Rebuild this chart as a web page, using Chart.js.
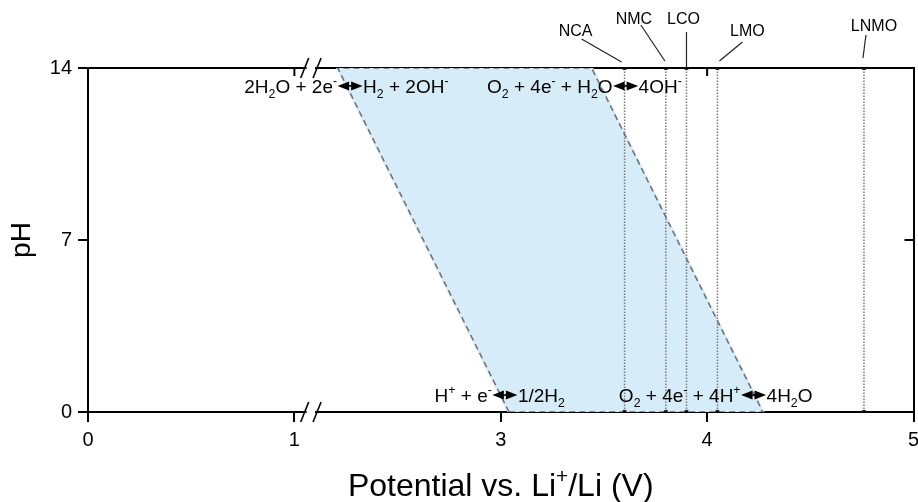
<!DOCTYPE html>
<html><head><meta charset="utf-8">
<script src="https://cdn.jsdelivr.net/npm/chart.js@4.4.1/dist/chart.umd.min.js"></script>
<style>html,body{margin:0;padding:0;background:#fff}canvas{display:block}</style>
</head><body>
<canvas id="c" width="918" height="502"></canvas>
<script>
// ---------- data ----------
const xTickValues = [0, 1, 3, 4, 5];          // V vs Li+/Li (axis broken between 1 and 2)
const yTickValues = [0, 7, 14];               // pH
const electrodeNames = ['NCA', 'NMC', 'LCO', 'LMO', 'LNMO'];
const electrodePotentials = [3.60, 3.80, 3.90, 4.05, 4.76];
const windowPotential = [3.04, 2.21, 3.44, 4.27, 3.04];  // water stability window corners
const windowPH = [0, 14, 14, 0, 0];
const reactionPotential = [2.27, 3.605, 3.02, 4.225];    // arrow centres
const reactionPH = [13.27, 13.27, 0.69, 0.69];
const reactionLeft = [
  [['2H'], ['2', 'sub'], ['O + 2e'], ['-', 'sup']],
  [['O'], ['2', 'sub'], [' + 4e'], ['-', 'sup'], [' + H'], ['2', 'sub'], ['O']],
  [['H'], ['+', 'sup'], [' + e'], ['-', 'sup']],
  [['O'], ['2', 'sub'], [' + 4e'], ['-', 'sup'], [' + 4H'], ['+', 'sup']]
];
const reactionRight = [
  [['H'], ['2', 'sub'], [' + 2OH'], ['-', 'sup']],
  [['4OH'], ['-', 'sup']],
  [['1/2H'], ['2', 'sub']],
  [['4H'], ['2', 'sub'], ['O']]
];
const xTitle = [['Potential vs. Li'], ['+', 'sup'], ['/Li (V)']];
const yTitle = 'pH';

// ---------- layout / style (not data) ----------
const FONT = '"Liberation Sans", Arial, sans-serif';
const labelOffsets = { // text centre, leader start, leader end (px relative to top of line)
  NCA:  { t: [-49, -36], a: [-43, -29], b: [-3, -6] },
  NMC:  { t: [-32, -48], a: [-25, -43], b: [-1, -7] },
  LCO:  { t: [-3, -48],  a: [0, -36],   b: [0, -1] },
  LMO:  { t: [30, -36],  a: [25, -26],  b: [2, -7] },
  LNMO: { t: [10, -41],  a: [2, -33],   b: [-1, -10] }
};
const toAxis = v => (v <= 1.5 ? v : v - 1);   // broken axis: 1 → 2 gap removed

// ---------- datasets ----------
const windowPts = windowPotential.map((e, i) => ({ x: toAxis(e), y: windowPH[i] }));
const datasets = [
  { data: windowPts, showLine: true, fill: 'shape', backgroundColor: '#d6ecf8',
    borderColor: '#d6ecf8', borderWidth: 3, pointRadius: 0, order: 10, tension: 0 },
  { data: windowPts, showLine: true, fill: false, borderColor: '#6e6e6e',
    borderDash: [6, 4], borderWidth: 1.5, pointRadius: 0, order: 9, tension: 0 }
];
electrodePotentials.forEach((e, i) => {
  datasets.push({
    label: electrodeNames[i],
    data: [{ x: toAxis(e), y: yTickValues[0] }, { x: toAxis(e), y: yTickValues[2] }],
    showLine: true, borderColor: '#7a7a7a', borderWidth: 1.5, borderDash: [1.5, 1.5],
    pointStyle: 'rect', pointRadius: 2.3, pointBackgroundColor: '#111', pointBorderColor: '#111',
    pointBorderWidth: 0.5, order: 5
  });
});

function richWidth(ctx, segs, size) {
  let w = 0;
  segs.forEach(([t, m]) => {
    ctx.font = (m ? size * 0.65 : size) + 'px ' + FONT;
    w += ctx.measureText(t).width;
  });
  return w;
}
function drawRich(ctx, segs, x, y, size, align) {
  const w = richWidth(ctx, segs, size);
  let cx = align === 'right' ? x - w : align === 'center' ? x - w / 2 : x;
  ctx.textAlign = 'left';
  ctx.textBaseline = 'alphabetic';
  segs.forEach(([t, m]) => {
    ctx.font = (m ? size * 0.65 : size) + 'px ' + FONT;
    const dy = m === 'sub' ? size * 0.28 : m === 'sup' ? -size * 0.42 : 0;
    ctx.fillText(t, cx, y + dy);
    cx += ctx.measureText(t).width;
  });
}
function drawArrow(ctx, cx, cy) {
  ctx.save();
  ctx.strokeStyle = '#000'; ctx.fillStyle = '#000'; ctx.lineWidth = 1.6;
  ctx.beginPath(); ctx.moveTo(cx - 10, cy); ctx.lineTo(cx + 10, cy); ctx.stroke();
  ctx.beginPath(); ctx.moveTo(cx - 12.5, cy); ctx.lineTo(cx - 1, cy - 4.5); ctx.lineTo(cx - 1, cy + 4.5); ctx.closePath(); ctx.fill();
  ctx.beginPath(); ctx.moveTo(cx + 12.5, cy); ctx.lineTo(cx + 1, cy - 4.5); ctx.lineTo(cx + 1, cy + 4.5); ctx.closePath(); ctx.fill();
  ctx.restore();
}

const decor = {
  id: 'decor',
  beforeDatasetsDraw(chart) {
    const { ctx, chartArea: a, scales: { x, y } } = chart;
    ctx.save();
    ctx.strokeStyle = '#000'; ctx.lineWidth = 2;
    xTickValues.slice(1, -1).forEach(v => {
      const px = x.getPixelForValue(toAxis(v));
      ctx.beginPath(); ctx.moveTo(px, a.top); ctx.lineTo(px, a.top + 8); ctx.stroke();
    });
    yTickValues.slice(1, -1).forEach(v => {
      const py = y.getPixelForValue(v);
      ctx.beginPath(); ctx.moveTo(a.right, py); ctx.lineTo(a.right - 9, py); ctx.stroke();
    });
    ctx.restore();
  },
  afterDraw(chart) {
    const { ctx, chartArea: a, scales: { x, y } } = chart;
    ctx.save();
    const b1 = x.getPixelForValue(1.05), b2 = x.getPixelForValue(1.11);
    [a.top, a.bottom].forEach(py => {
      ctx.fillStyle = '#fff';
      ctx.fillRect(b1 + 2, py - 2, b2 - b1 - 4, 4);
      ctx.strokeStyle = '#000'; ctx.lineWidth = 1.6;
      [b1, b2].forEach(px => {
        ctx.beginPath(); ctx.moveTo(px - 4, py + 10); ctx.lineTo(px + 4, py - 10); ctx.stroke();
      });
    });
    ctx.fillStyle = '#000';
    reactionPotential.forEach((e, i) => {
      const cx = x.getPixelForValue(toAxis(e));
      const cy = y.getPixelForValue(reactionPH[i]);
      const base = cy + 19 * 0.35;
      drawRich(ctx, reactionLeft[i], cx - 13, base, 19, 'right');
      drawRich(ctx, reactionRight[i], cx + 13, base, 19, 'left');
      drawArrow(ctx, cx, cy);
    });
    electrodeNames.forEach((n, i) => {
      const px = x.getPixelForValue(toAxis(electrodePotentials[i]));
      const py = y.getPixelForValue(yTickValues[2]);
      const o = labelOffsets[n];
      ctx.font = '16px ' + FONT; ctx.textAlign = 'center'; ctx.textBaseline = 'middle';
      ctx.fillStyle = '#000';
      ctx.fillText(n, px + o.t[0], py + o.t[1]);
      ctx.strokeStyle = '#222'; ctx.lineWidth = 1.2;
      ctx.beginPath(); ctx.moveTo(px + o.a[0], py + o.a[1]); ctx.lineTo(px + o.b[0], py + o.b[1]); ctx.stroke();
    });
    drawRich(ctx, xTitle, (a.left + a.right) / 2, 496, 32, 'center');
    ctx.save();
    ctx.translate(22, (a.top + a.bottom) / 2);
    ctx.rotate(-Math.PI / 2);
    ctx.font = '28px ' + FONT; ctx.textAlign = 'center'; ctx.textBaseline = 'middle';
    ctx.fillText(yTitle, 0, 0);
    ctx.restore();
    ctx.restore();
  }
};

const noPad = s => { s.paddingLeft = 0; s.paddingRight = 0; s.paddingTop = 0; s.paddingBottom = 0; };
const xMin = toAxis(xTickValues[0]), xMax = toAxis(xTickValues[xTickValues.length - 1]);
new Chart(document.getElementById('c'), {
  type: 'scatter',
  data: { datasets },
  options: {
    responsive: false, animation: false, devicePixelRatio: 1,
    layout: { padding: 0 },
    plugins: { legend: { display: false }, tooltip: { enabled: false } },
    scales: {
      x: {
        type: 'linear', position: 'bottom', min: xMin, max: xMax,
        afterBuildTicks: s => { s.ticks = xTickValues.map(v => ({ value: toAxis(v) })); },
        afterFit: s => { s.height = 90; noPad(s); },
        ticks: { color: '#000', font: { family: FONT, size: 20 }, padding: 6, maxRotation: 0,
          callback: v => { const i = xTickValues.map(toAxis).indexOf(v); return i >= 0 ? String(xTickValues[i]) : ''; } },
        grid: { drawOnChartArea: false, drawTicks: true, tickLength: 10, color: '#000', lineWidth: 2 },
        border: { display: true, color: '#000', width: 2 }
      },
      y: {
        type: 'linear', position: 'left', min: yTickValues[0], max: yTickValues[2],
        afterBuildTicks: s => { s.ticks = yTickValues.map(v => ({ value: v })); },
        afterFit: s => { s.width = 88; noPad(s); },
        ticks: { color: '#000', font: { family: FONT, size: 20 }, padding: 6 },
        grid: { drawOnChartArea: false, drawTicks: true, tickLength: 10, color: '#000', lineWidth: 2 },
        border: { display: true, color: '#000', width: 2 }
      },
      x2: {
        type: 'linear', position: 'top', min: xMin, max: xMax,
        afterFit: s => { s.height = 68; noPad(s); },
        ticks: { display: false }, grid: { display: false },
        border: { display: true, color: '#000', width: 2 }
      },
      y2: {
        type: 'linear', position: 'right', min: yTickValues[0], max: yTickValues[2],
        afterFit: s => { s.width = 4; noPad(s); },
        ticks: { display: false }, grid: { display: false },
        border: { display: true, color: '#000', width: 2 }
      }
    }
  },
  plugins: [decor]
});
</script>
</body></html>
